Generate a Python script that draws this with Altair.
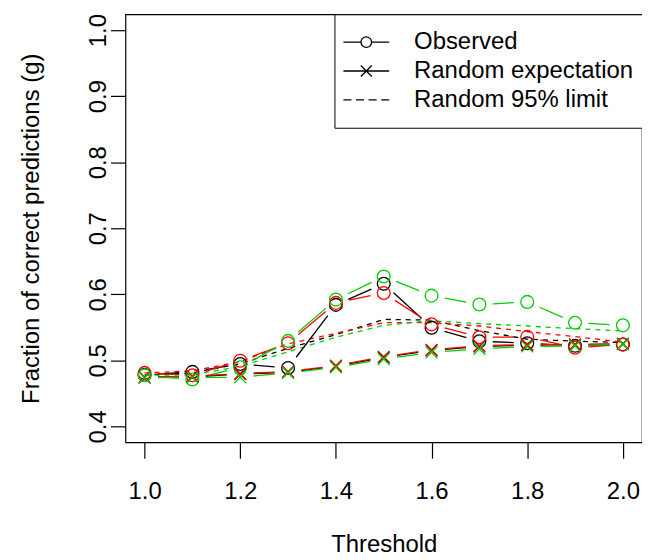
import math
import altair as alt
import pandas as pd

# ---------------- data ----------------
thresholds = [1.0, 1.1, 1.2, 1.3, 1.4, 1.5, 1.6, 1.7, 1.8, 1.9, 2.0]
methods = ["black", "red", "green"]
method_colors = ["#000000", "#FF0000", "#00CD00"]

observed_black = [0.478, 0.4825, 0.4945, 0.4885, 0.584, 0.616, 0.5495, 0.529, 0.526, 0.522, 0.524]
observed_red = [0.481, 0.4775, 0.4995, 0.526, 0.587, 0.602, 0.5545, 0.535, 0.5355, 0.519, 0.524]
observed_green = [0.4775, 0.471, 0.4895, 0.5295, 0.592, 0.627, 0.598, 0.5845, 0.5885, 0.557, 0.553]

expect_black = [0.4745, 0.475, 0.479, 0.482, 0.491, 0.5045, 0.515, 0.521, 0.523, 0.524, 0.525]
expect_red = [0.474, 0.476, 0.480, 0.483, 0.492, 0.5055, 0.516, 0.522, 0.524, 0.524, 0.525]
expect_green = [0.474, 0.474, 0.4745, 0.481, 0.4895, 0.502, 0.512, 0.5175, 0.521, 0.522, 0.5245]

limit_black = [0.478, 0.481, 0.495, 0.518, 0.539, 0.562, 0.561, 0.545, 0.532, 0.529, 0.527]
limit_red = [0.481, 0.484, 0.498, 0.525, 0.541, 0.557, 0.557, 0.552, 0.5435, 0.536, 0.5275]
limit_green = [0.4775, 0.478, 0.491, 0.513, 0.535, 0.553, 0.560, 0.5555, 0.552, 0.548, 0.5445]

legend_labels = ["Observed", "Random expectation", "Random 95% limit"]
x_ticks = [1.0, 1.2, 1.4, 1.6, 1.8, 2.0]
y_ticks = [0.4, 0.5, 0.6, 0.7, 0.8, 0.9, 1.0]

# ---------------- layout ----------------
FONT = "Liberation Sans"
W, H = 519, 430
XDOM = [0.96, 2.04]
YDOM = [0.376, 1.024]
XPX = W / (XDOM[1] - XDOM[0])
YPX = H / (YDOM[1] - YDOM[0])
GAP = 13.5  # gap (px) around points for R's type="b" lines

observed = {"black": observed_black, "red": observed_red, "green": observed_green}
expected = {"black": expect_black, "red": expect_red, "green": expect_green}
limits = {"black": limit_black, "red": limit_red, "green": limit_green}


def long_df(series):
    rows = []
    for m in methods:
        for t, v in zip(thresholds, series[m]):
            rows.append({"method": m, "x": t, "y": v})
    return pd.DataFrame(rows)


def segments(series):
    rows = []
    for m in methods:
        ys = series[m]
        for i in range(len(thresholds) - 1):
            x0, x1 = thresholds[i], thresholds[i + 1]
            y0, y1 = ys[i], ys[i + 1]
            L = math.hypot((x1 - x0) * XPX, (y1 - y0) * YPX)
            if L <= 2 * GAP:
                continue
            f = GAP / L
            rows.append({
                "method": m,
                "x": x0 + f * (x1 - x0), "y": y0 + f * (y1 - y0),
                "x2": x1 - f * (x1 - x0), "y2": y1 - f * (y1 - y0),
            })
    return pd.DataFrame(rows)


obs_df = long_df(observed)
exp_df = long_df(expected)
lim_df = long_df(limits)
seg_df = pd.concat([segments(observed), segments(expected)], ignore_index=True)

x_axis = alt.Axis(
    values=x_ticks, format=".1f", domain=False, grid=False,
    tickSize=16, tickColor="black", tickWidth=1.2,
    labelFont=FONT, labelFontSize=24, labelColor="black",
    labelPadding=41, labelBaseline="alphabetic", labelFlush=False, labelOverlap=False,
    title="Threshold", titleFont=FONT, titleFontSize=24, titleFontWeight="normal",
    titleColor="black", titleY=110, titleBaseline="alphabetic",
)
y_axis = alt.Axis(
    values=y_ticks, format=".1f", domain=False, grid=False,
    tickSize=15, tickColor="black", tickWidth=1.2,
    labelFont=FONT, labelFontSize=24, labelColor="black",
    labelAngle=270, labelAlign="center", labelBaseline="alphabetic",
    labelPadding=5, labelFlush=False, labelOverlap=False,
    title="Fraction of correct predictions (g)", titleFont=FONT, titleFontSize=24,
    titleFontWeight="normal", titleColor="black", titleAngle=270,
    titleX=-87, titleY=H / 2, titleBaseline="alphabetic", titleAlign="center",
)

X = alt.X("x:Q", scale=alt.Scale(domain=XDOM, nice=False, zero=False), axis=x_axis)
Y = alt.Y("y:Q", scale=alt.Scale(domain=YDOM, nice=False, zero=False), axis=y_axis)
C = alt.Color("method:N", scale=alt.Scale(domain=methods, range=method_colors), legend=None)

lim_layer = alt.Chart(lim_df).mark_line(strokeDash=[5, 5], strokeWidth=1.3).encode(
    x=X, y=Y, color=C, order=alt.Order("x:Q")
)
seg_layer = alt.Chart(seg_df).mark_rule(strokeWidth=1.3).encode(
    x=X, y=Y, x2="x2:Q", y2="y2:Q", color=C
)
obs_layer = alt.Chart(obs_df).mark_point(
    shape="circle", filled=False, size=165, strokeWidth=1.3, opacity=1
).encode(x=X, y=Y, color=C)
exp_layer = alt.Chart(exp_df).mark_point(
    shape="M-1,-1L1,1M-1,1L1,-1", filled=False, size=140, strokeWidth=1.3, opacity=1
).encode(x=X, y=Y, color=C)

# legend (R-style: line + symbol samples)
obs_path = "M-1.9,0L-0.13,0M0.93,0L2.7,0M0.93,0A0.53,0.53,0,1,1,-0.13,0A0.53,0.53,0,1,1,0.93,0"
exp_path = "M-1.9,0L2.7,0M-0.15,-0.55L0.95,0.55M-0.15,0.55L0.95,-0.55"
lim_path = "M-1.9,0L-1.1,0M-0.633,0L0.167,0M0.633,0L1.433,0M1.9,0L2.7,0"

leg_df = pd.DataFrame({
    "label": legend_labels,
    "x": [thresholds[0]] * 3,
    "y": [observed_black[0]] * 3,
})
leg_layer = alt.Chart(leg_df).mark_point(
    size=0, filled=False, strokeWidth=1.3, color="black"
).encode(
    x=X, y=Y,
    shape=alt.Shape(
        "label:N",
        scale=alt.Scale(domain=legend_labels, range=[obs_path, exp_path, lim_path]),
        legend=alt.Legend(
            title=None, orient="none", legendX=210, legendY=0, padding=16,
            strokeColor="black", fillColor="white", cornerRadius=0,
            symbolSize=400, symbolStrokeWidth=1.3, symbolFillColor="transparent",
            symbolStrokeColor="black", symbolOpacity=1,
            labelFont=FONT, labelFontSize=24, labelColor="black",
            labelOffset=40, labelLimit=400, rowPadding=5,
        ),
    ),
)

chart = alt.layer(lim_layer, seg_layer, obs_layer, exp_layer, leg_layer).properties(
    width=W, height=H,
    autosize=alt.AutoSizeParams(type="none"),
    padding={"left": 118, "top": 5, "right": 0, "bottom": 117},
).configure_view(stroke="black", strokeWidth=1.2)

chart.save("out.html", embed_options={"renderer": "svg", "actions": False})
